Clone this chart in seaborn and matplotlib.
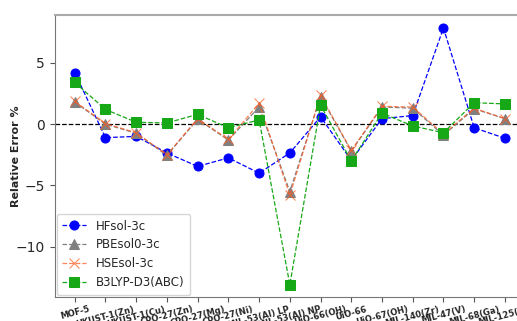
import matplotlib
matplotlib.use("Agg")
import matplotlib.pyplot as plt
import seaborn as sns

# MOF structures along the x axis
categories = ["MOF-5", "HKUST-1(Zn)", "HKUST-1(Cu)", "CPO-27(Zn)", "CPO-27(Mg)",
              "CPO-27(Ni)", "MIL-53(Al) LP", "MIL-53(Al) NP", "UiO-66(OH)", "UiO-66",
              "UiO-67(OH)", "MIL-140(Zr)", "MIL-47(V)", "MIL-68(Ga)", "MIL-125(Ti)"]

# relative error (%) per method
hfsol = [4.2, -1.1, -1.0, -2.35, -3.45, -2.75, -4.0, -2.35, 0.6, -2.95,
         0.45, 0.7, 7.85, -0.3, -1.15]
pbesol0 = [1.8, 0.0, -0.75, -2.55, 0.4, -1.3, 1.4, -5.5, 2.25, -2.2,
           1.4, 1.3, -0.9, 1.25, 0.45]
hsesol = [1.85, 0.05, -0.7, -2.5, 0.45, -1.25, 1.7, -5.8, 2.35, -2.15,
          1.45, 1.4, -0.8, 1.3, 0.45]
b3lyp = [3.4, 1.2, 0.15, 0.1, 0.8, -0.3, 0.35, -13.1, 1.55, -3.0,
         0.9, -0.15, -0.7, 1.75, 1.65]

series = [
    ("HFsol-3c", hfsol, "#0000ff", "o", 1.0),
    ("PBEsol0-3c", pbesol0, "#808080", "^", 1.0),
    ("HSEsol-3c", hsesol, "#ff5a1f", "x", 0.75),
    ("B3LYP-D3(ABC)", b3lyp, "#17a817", "s", 1.0),
]

sns.set_style("white")
fig = plt.figure(figsize=(5.17, 3.21), dpi=100)
ax = fig.add_axes([0.106, 0.075, 0.933, 0.878])

for name, vals, col, mk, a in series:
    sns.lineplot(x=categories, y=vals, ax=ax, sort=False, color=col, marker=mk,
                 markersize=6.5, markeredgecolor=col, linestyle="--", linewidth=0.9,
                 alpha=a, label=name)

ax.axhline(0, color="black", linestyle="--", linewidth=0.9, zorder=0)

ax.set_xlim(-0.65, 15.05)
ax.set_ylim(-14.1, 8.9)
ax.set_yticks([-10, -5, 0, 5])
ax.set_ylabel("Relative Error %", fontsize=8, fontweight="bold")
ax.yaxis.set_label_coords(-0.07, 0.5)
ax.tick_params(axis="y", labelsize=10, left=True, length=3.5, color="#555555")
ax.tick_params(axis="x", bottom=True, length=3.5, color="#555555", pad=2)
plt.setp(ax.get_xticklabels(), rotation=15, ha="center", fontsize=6,
         fontweight="bold")

for s in ["left", "bottom"]:
    ax.spines[s].set_color("#777777")
ax.spines["top"].set_color("#aaaaaa")
ax.spines["top"].set_linewidth(1.5)
ax.spines["right"].set_visible(False)

ax.legend(loc="lower left", fontsize=8.5, framealpha=0.8, borderpad=0.5,
          handlelength=2.0, borderaxespad=0.15)

fig.savefig("out.png", dpi=100)
